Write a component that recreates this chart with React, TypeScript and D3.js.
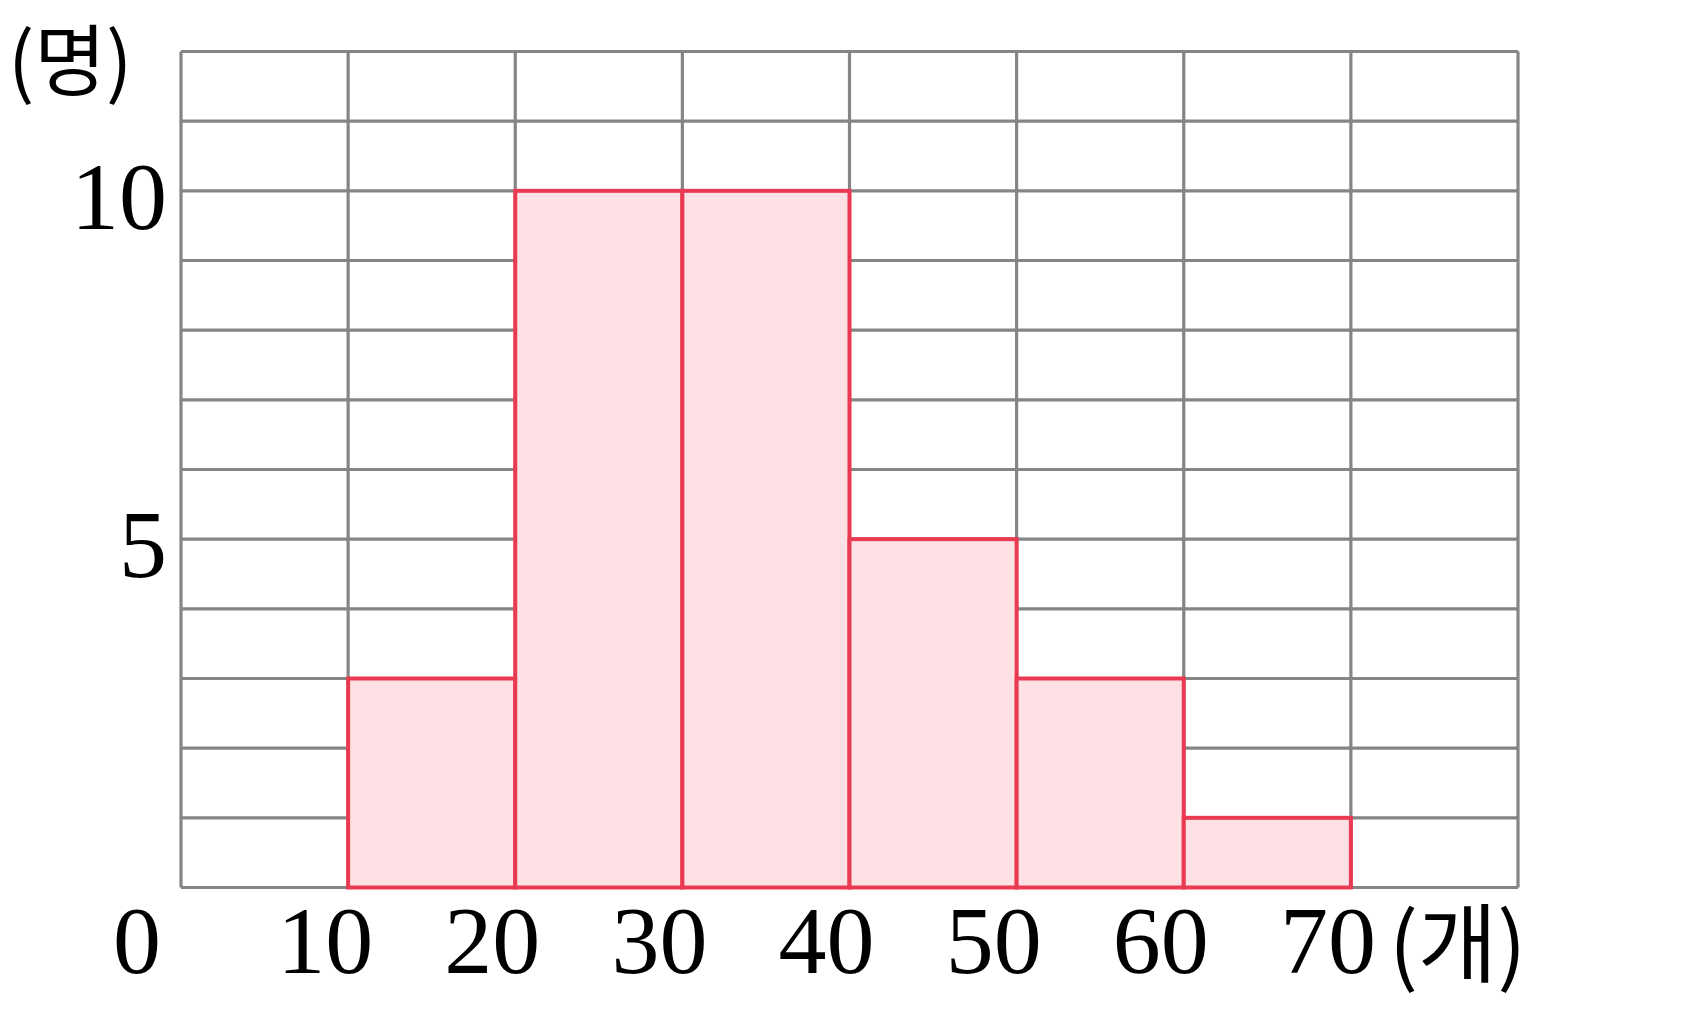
import React from "react";
import * as d3 from "d3";

const binStarts = [10, 20, 30, 40, 50, 60];
const binWidth = 10;
const counts = [3, 10, 10, 5, 3, 1];
const xTickLabels = [0, 10, 20, 30, 40, 50, 60, 70];
const yTickLabels = [5, 10];
const xUnit = "(개)";
const yUnit = "(명)";

const W = 1686;
const H = 1010;

export default function App() {
  const x = d3.scaleLinear().domain([0, 80]).range([181, 1518]);
  const y = d3.scaleLinear().domain([0, 12]).range([887.5, 51.5]);
  const xGrid = d3.range(0, 81, 10);
  const yGrid = d3.range(0, 13, 1);
  const gridColor = "#858585";
  const serif = "'Liberation Serif', 'Times New Roman', serif";
  const kfont = "'Noto Sans CJK KR', sans-serif";

  return (
    <svg
      width={W}
      height={H}
      viewBox={`0 0 ${W} ${H}`}
      style={{ position: "absolute", left: 0, top: 0, background: "#fff" }}
    >
      <g>
        {yGrid.map((v) => (
          <line key={"h" + v} x1={x(0)} x2={x(80)} y1={y(v)} y2={y(v)} stroke={gridColor} strokeWidth={3.2} />
        ))}
        {xGrid.map((v) => (
          <line key={"v" + v} x1={x(v)} x2={x(v)} y1={y(0)} y2={y(12)} stroke={gridColor} strokeWidth={3.2} />
        ))}
      </g>
      <g>
        {binStarts.map((s, i) => (
          <rect
            key={"b" + s}
            x={x(s)}
            y={y(counts[i])}
            width={x(s + binWidth) - x(s)}
            height={y(0) - y(counts[i])}
            fill="#fde1e5"
            stroke="#ea3a52"
            strokeWidth={4}
          />
        ))}
      </g>
      <g fontFamily={serif} fontSize={96} fill="#000">
        {yTickLabels.map((v) => (
          <text key={"yl" + v} x={x(0) - 14} y={y(v) + 38} textAnchor="end">
            {v}
          </text>
        ))}
        {xTickLabels.map((v) => (
          <text key={"xl" + v} x={x(v) - (v === 0 ? 44 : 23)} y={973} textAnchor="middle">
            {v}
          </text>
        ))}
      </g>
      <text x={1389} y={976} fontFamily={kfont} fontSize={86} fill="#000">
        {xUnit}
      </text>
      <text x={8} y={90} fontFamily={kfont} fontSize={78} fill="#000">
        {yUnit}
      </text>
    </svg>
  );
}
